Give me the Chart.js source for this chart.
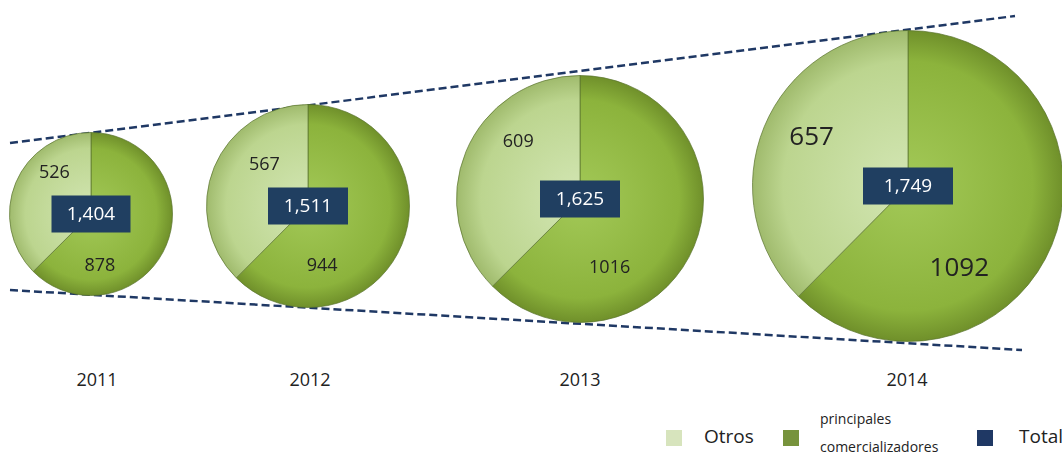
<!DOCTYPE html>
<html>
<head>
<meta charset="utf-8">
<script src="https://cdn.jsdelivr.net/npm/chart.js@4"></script>
<style>
  html, body { margin: 0; padding: 0; background: #fff; overflow: hidden; }
  body { width: 1062px; height: 452px; position: relative; font-family: "Open Sans", "Noto Sans", sans-serif; color: #222; }
  .pie { position: absolute; }
  .year { position: absolute; font-size: 18px; transform: translateX(-50%); top: 367px; }
  .legend { position: absolute; top: 405px; left: 0; width: 1062px; height: 47px; }
  .sw { position: absolute; width: 16px; height: 16px; top: 25px; }
  .lt { position: absolute; }
  svg { position: absolute; left: 0; top: 0; }
</style>
</head>
<body>
<svg width="1062" height="452">
  <line x1="10" y1="143" x2="1015" y2="16" stroke="#1f3864" stroke-width="2.5" stroke-dasharray="8,4"/>
  <line x1="10" y1="290" x2="1022" y2="350" stroke="#1f3864" stroke-width="2.5" stroke-dasharray="8,4"/>
</svg>
<div id="pies"></div>
<div class="legend">
  <div class="sw" style="left:666px;background:#d7e4bd"></div>
  <div class="lt" style="left:704px;top:18px;font-size:19px">Otros</div>
  <div class="sw" style="left:783px;background:#77933c"></div>
  <div class="lt" style="left:820px;top:0px;font-size:14px;line-height:28px">principales<br>comercializadores</div>
  <div class="sw" style="left:977px;background:#1f3864"></div>
  <div class="lt" style="left:1019px;top:18px;font-size:19px">Total</div>
</div>
<script>
const years = ["2011", "2012", "2013", "2014"];
const principales = [878, 944, 1016, 1092];
const otros = [526, 567, 609, 657];
const totals = [1404, 1511, 1625, 1749];
const seriesNames = ["principales comercializadores", "Otros"];

// where each pie sits and where its numbers go (fractions of radius)
const layout = [
  { cx: 91, cy: 214, r: 81, font: 18, box: 79, lab: [[0.11, 0.64], [-0.45, -0.51]] },
  { cx: 308, cy: 206, r: 101, font: 18, box: 80, lab: [[0.14, 0.59], [-0.43, -0.41]] },
  { cx: 580, cy: 199, r: 123, font: 18, box: 80, lab: [[0.24, 0.56], [-0.5, -0.46]] },
  { cx: 908, cy: 186, r: 155, font: 26, box: 90, lab: [[0.33, 0.53], [-0.62, -0.31]] },
];

const shades = [
  ["#a3c958", "#8cb33c", "#6f8f2a"],
  ["#d3e6b4", "#bcd58f", "#9fba6c"],
];

function sliceFill(c) {
  const area = c.chart.chartArea;
  const s = shades[c.dataIndex];
  if (!area) return s[1];
  const x = (area.left + area.right) / 2, y = (area.top + area.bottom) / 2;
  const r = Math.min(area.right - area.left, area.bottom - area.top) / 2;
  const g = c.chart.ctx.createRadialGradient(x, y, 0, x, y, r);
  g.addColorStop(0, s[0]);
  g.addColorStop(0.8, s[1]);
  g.addColorStop(1, s[2]);
  return g;
}

const labelPlugin = {
  id: "pieLabels",
  afterDatasetsDraw(chart) {
    const cfg = chart.options.plugins.pieLabels;
    const ctx = chart.ctx;
    const arc = chart.getDatasetMeta(0).data[0];
    const r = arc.outerRadius;
    ctx.save();
    ctx.textAlign = "center";
    ctx.textBaseline = "middle";
    ctx.fillStyle = "#222";
    ctx.font = cfg.font + 'px "Open Sans", "Noto Sans", sans-serif';
    chart.data.datasets[0].data.forEach((v, i) => {
      const p = cfg.lab[i];
      ctx.fillText(String(v), arc.x + p[0] * r, arc.y + p[1] * r);
    });
    const bw = cfg.box, bh = 37;
    ctx.fillStyle = "#203f61";
    ctx.fillRect(arc.x - bw / 2, arc.y - bh / 2, bw, bh);
    ctx.fillStyle = "#fff";
    ctx.font = '19px "Open Sans", "Noto Sans", sans-serif';
    ctx.fillText(cfg.total.toLocaleString("en-US"), arc.x, arc.y + 1);
    ctx.restore();
  }
};

const holder = document.getElementById("pies");
years.forEach((year, i) => {
  const L = layout[i];
  const size = 2 * L.r + 2;
  const cv = document.createElement("canvas");
  cv.className = "pie";
  cv.width = size;
  cv.height = size;
  cv.style.left = (L.cx - L.r - 1) + "px";
  cv.style.top = (L.cy - L.r - 1) + "px";
  cv.style.width = size + "px";
  cv.style.height = size + "px";
  holder.appendChild(cv);

  new Chart(cv.getContext("2d"), {
    type: "pie",
    data: {
      labels: seriesNames,
      datasets: [{
        data: [principales[i], otros[i]],
        backgroundColor: sliceFill,
        borderColor: "rgba(90,115,45,0.7)",
        borderWidth: 1,
      }],
    },
    options: {
      responsive: false,
      animation: false,
      layout: { padding: 0 },
      plugins: {
        legend: { display: false },
        tooltip: { enabled: false },
        pieLabels: { font: L.font, box: L.box, lab: L.lab, total: totals[i] },
      },
    },
    plugins: [labelPlugin],
  });

  const y = document.createElement("div");
  y.className = "year";
  y.style.left = [97, 310, 580, 907][i] + "px";
  y.textContent = year;
  document.body.appendChild(y);
});
</script>
</body>
</html>
